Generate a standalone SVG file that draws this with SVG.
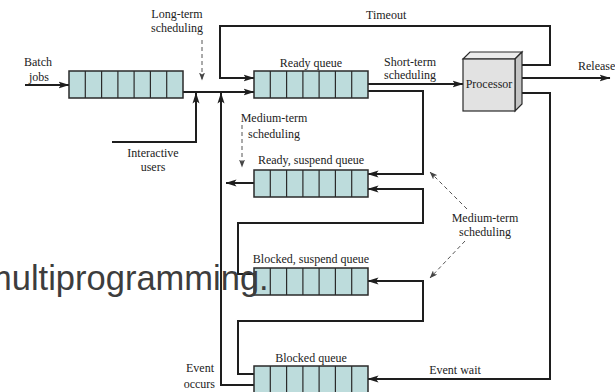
<svg xmlns="http://www.w3.org/2000/svg" width="615" height="392" viewBox="0 0 615 392">
  <style>
    .lbl { font-family: "Liberation Serif", "Times New Roman", serif; font-size: 12px; fill: #222; }
    .mid { text-anchor: middle; }
    .end { text-anchor: end; }
    .line { fill: none; stroke: #1e1e1e; stroke-width: 2; marker-end: url(#arrow); }
    .dash { fill: none; stroke: #555; stroke-width: 1; stroke-dasharray: 4 3; marker-end: url(#darrow); }
    .qbox { fill: #bddcdc; stroke: #2a2a2a; stroke-width: 1.5; }
    .qcell { stroke: #2a2a2a; stroke-width: 1.2; }
  </style>
  <defs>
    <marker id="arrow" markerUnits="userSpaceOnUse" markerWidth="11" markerHeight="8" refX="10.5" refY="4" orient="auto">
      <path d="M0,0.5 L11,4 L0,7.5 L2.5,4 z" fill="#1e1e1e"/>
    </marker>
    <marker id="darrow" markerUnits="userSpaceOnUse" markerWidth="8" markerHeight="6" refX="7.5" refY="3" orient="auto">
      <path d="M0,0 L8,3 L0,6 L2,3 z" fill="#444"/>
    </marker>
    <!-- a seven-slot queue, 114 x 27 -->
    <g id="queue">
      <rect class="qbox" x="0" y="0" width="114" height="27"/>
      <path class="qcell" d="M16.3,0V27M32.6,0V27M48.9,0V27M65.1,0V27M81.4,0V27M97.7,0V27"/>
    </g>
  </defs>

  <!-- connectors -->
  <g id="connectors">
    <!-- batch jobs in -->
    <path class="line" d="M25,85 H69"/>
    <!-- batch queue to ready queue -->
    <path class="line" d="M183,92 H254"/>
    <!-- interactive users -->
    <path class="line" d="M112,142 H196 V93"/>
    <!-- event occurs: blocked queue back to ready -->
    <path class="line" d="M254,385 H221 V93"/>
    <!-- timeout -->
    <path class="line" d="M518,65 H550 V26 H220 V78 H254"/>
    <!-- dispatch -->
    <path class="line" d="M368,84 H463"/>
    <!-- release -->
    <path class="line" d="M518,78 H610"/>
    <!-- event wait -->
    <path class="line" d="M518,93 H550 V379 H368"/>
    <!-- ready queue suspended -->
    <path class="line" d="M368,91 H423 V174 H368"/>
    <!-- blocked suspend to ready suspend -->
    <path class="line" d="M254,274 H238 V223 H423 V189 H368"/>
    <!-- blocked to blocked suspend -->
    <path class="line" d="M254,374 H238 V321 H423 V281 H368"/>
    <!-- ready suspend activated -->
    <path class="line" d="M254,183 H226"/>
    <!-- scheduling hints -->
    <path class="dash" d="M202,40 V80"/>
    <path class="dash" d="M242,125 V167"/>
    <path class="dash" d="M467,209 L430,172"/>
    <path class="dash" d="M465,241 L430,278"/>
  </g>

  <!-- queues -->
  <g id="batch-queue"><use href="#queue" x="69" y="71"/></g>
  <g id="ready-queue"><use href="#queue" x="254" y="71"/><text class="lbl mid" x="311" y="67">Ready queue</text></g>
  <g id="ready-suspend-queue"><use href="#queue" x="254" y="170"/><text class="lbl mid" x="311" y="164">Ready, suspend queue</text></g>
  <g id="blocked-suspend-queue"><use href="#queue" x="254" y="268"/><text class="lbl mid" x="311" y="263">Blocked, suspend queue</text></g>
  <g id="blocked-queue"><use href="#queue" x="254" y="366"/><text class="lbl mid" x="311" y="362">Blocked queue</text></g>

  <!-- processor block -->
  <g id="processor">
    <polygon points="463,59 470,52 522,52 515,59" fill="#ececec" stroke="#2a2a2a" stroke-width="1.2"/>
    <polygon points="515,59 522,52 522,104 515,111" fill="#c4c4c4" stroke="#2a2a2a" stroke-width="1.2"/>
    <rect x="463" y="59" width="52" height="52" fill="#e2e2e2" stroke="#2a2a2a" stroke-width="1.2"/>
    <text class="lbl mid" x="489" y="88">Processor</text>
  </g>

  <!-- labels -->
  <g id="labels">
    <text class="lbl mid" x="38" y="66">Batch</text>
    <text class="lbl mid" x="39" y="81">jobs</text>
    <text class="lbl mid" x="177" y="18">Long-term</text>
    <text class="lbl mid" x="177" y="32">scheduling</text>
    <text class="lbl" x="366" y="19">Timeout</text>
    <text class="lbl mid" x="410" y="66">Short-term</text>
    <text class="lbl mid" x="410" y="79">scheduling</text>
    <text class="lbl" x="578" y="70">Release</text>
    <text class="lbl mid" x="153" y="157">Interactive</text>
    <text class="lbl mid" x="153" y="171">users</text>
    <text class="lbl mid" x="274" y="122">Medium-term</text>
    <text class="lbl mid" x="274" y="138">scheduling</text>
    <text class="lbl mid" x="485" y="222">Medium-term</text>
    <text class="lbl mid" x="485" y="236">scheduling</text>
    <text class="lbl mid" x="455" y="374">Event wait</text>
    <text class="lbl end" x="214" y="372">Event</text>
    <text class="lbl end" x="215" y="388">occurs</text>
  </g>

  <!-- caption fragment over the figure -->
  <text x="-17" y="290" font-family="'Liberation Sans', Arial, sans-serif" font-size="34.5" fill="#3d3d3d">multiprogramming.</text>
</svg>
